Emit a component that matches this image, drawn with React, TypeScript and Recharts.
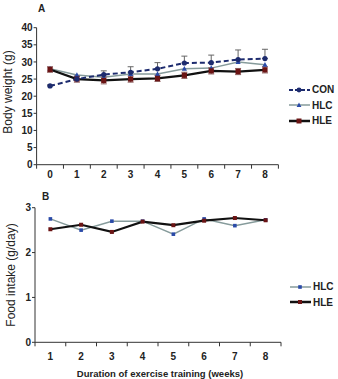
import React from "react";
import { LineChart, Line, XAxis, YAxis, ErrorBar } from "recharts";

// Panel A: body weight (g)
const weeksA = ["0", "1", "2", "3", "4", "5", "6", "7", "8"];
const conWeight = [23, 25, 26.3, 27, 28, 29.7, 29.8, 30.7, 31];
const conWeightErr = [0.3, 0.8, 1.1, 1.6, 1.8, 2.0, 2.2, 2.8, 2.7];
const hlcWeight = [28, 26.2, 25.5, 26.5, 26.5, 28, 28.2, 30, 29.2];
const hleWeight = [27.8, 25, 24.6, 25, 25.2, 26.1, 27.4, 27.2, 27.7];
const hleWeightErr = [0.8, 0.9, 1.0, 0.9, 0.9, 0.9, 0.9, 0.9, 0.9];
const weightTicks = [0, 5, 10, 15, 20, 25, 30, 35, 40];

// Panel B: food intake (g/day)
const weeksB = ["1", "2", "3", "4", "5", "6", "7", "8"];
const hlcFood = [2.75, 2.5, 2.7, 2.7, 2.41, 2.75, 2.6, 2.73];
const hleFood = [2.52, 2.62, 2.46, 2.69, 2.61, 2.71, 2.77, 2.72];
const foodTicks = [0, 1, 2, 3];

const weightData = weeksA.map((w, i) => ({
  week: w,
  con: conWeight[i],
  conErr: [0, conWeightErr[i]],
  hlc: hlcWeight[i],
  hle: hleWeight[i],
  hleErr: hleWeightErr[i],
}));

const foodData = weeksB.map((w, i) => ({
  week: w,
  hlc: hlcFood[i],
  hle: hleFood[i],
}));

const FONT = "'Liberation Sans', Arial, sans-serif";
const NAVY = "#1d2b6e";
const HLC_LINE = "#869b9b";
const HLC_DOT = "#2a4aa8";
const HLE_DOT = "#6b1414";

const tickStyle = { fontSize: 10, fontWeight: 700, fill: "#222", fontFamily: FONT };

function BandTick(props: any) {
  const { x, y, payload, index, band, count, labelDy } = props;
  const lineTop = y - 6;
  return (
    <g>
      <line x1={x - band / 2} x2={x - band / 2} y1={lineTop} y2={lineTop + 4} stroke="#333" />
      {index === count - 1 && (
        <line x1={x + band / 2} x2={x + band / 2} y1={lineTop} y2={lineTop + 4} stroke="#333" />
      )}
      <text x={x} y={y} dy={labelDy} textAnchor="middle" style={tickStyle}>
        {payload.value}
      </text>
    </g>
  );
}

const Circle = (p: any) => <circle cx={p.cx} cy={p.cy} r={2.6} fill={NAVY} />;
const Tri = (p: any) => (
  <path d={`M${p.cx},${p.cy - 2.8} L${p.cx + 2.6},${p.cy + 2} L${p.cx - 2.6},${p.cy + 2} Z`} fill={HLC_DOT} />
);
const Sq = (p: any) => <rect x={p.cx - 2.6} y={p.cy - 2.6} width={5.2} height={5.2} fill={HLE_DOT} />;
const SmallSqBlue = (p: any) => <rect x={p.cx - 1.8} y={p.cy - 1.8} width={3.6} height={3.6} fill={HLC_DOT} />;
const SmallSqRed = (p: any) => <rect x={p.cx - 2} y={p.cy - 2} width={4} height={4} fill={HLE_DOT} />;

type Item = { label: string; color: string; width: number; dash?: string; marker: React.ReactNode };

function LegendBox({ items, left, top }: { items: Item[]; left: number; top: number }) {
  return (
    <div style={{ position: "absolute", left, top, fontFamily: FONT }}>
      {items.map((it) => (
        <div key={it.label} style={{ display: "flex", alignItems: "center", height: 15.5 }}>
          <svg width={24} height={10}>
            <line x1={2} x2={23} y1={5} y2={5} stroke={it.color} strokeWidth={it.width} strokeDasharray={it.dash} />
            <g transform="translate(12,5)">{it.marker}</g>
          </svg>
          <span style={{ fontSize: 10, fontWeight: 700, color: "#222", marginLeft: 1 }}>{it.label}</span>
        </div>
      ))}
    </div>
  );
}

const BAND_A = 241.8 / 9;
const BAND_B = 246 / 8;

export default function App() {
  return (
    <div style={{ position: "absolute", left: 0, top: 0, width: 338, height: 379, background: "#fff", fontFamily: FONT }}>
      <div style={{ position: "absolute", left: 38, top: 3, fontSize: 10, fontWeight: 700, color: "#222" }}>A</div>
      <div
        style={{
          position: "absolute",
          left: 8,
          top: 92,
          transform: "translate(-50%, -50%) rotate(-90deg)",
          whiteSpace: "nowrap",
          fontSize: 12,
          color: "#222",
        }}
      >
        Body weight (g)
      </div>
      <div style={{ position: "absolute", left: 0, top: 0 }}>
        <LineChart width={338} height={190} data={weightData} margin={{ top: 27.7, right: 59.6, left: 0.6, bottom: 0 }}>
          <XAxis
            dataKey="week"
            height={25.3}
            padding={{ left: BAND_A / 2, right: BAND_A / 2 }}
            tickLine={false}
            tickSize={4}
            tickMargin={2}
            axisLine={{ stroke: "#333" }}
            interval={0}
            tick={(p: any) => <BandTick {...p} band={BAND_A} count={weeksA.length} labelDy={7} />}
          />
          <YAxis
            width={36}
            domain={[0, 40]}
            ticks={weightTicks}
            interval={0}
            tickSize={3}
            tickMargin={1}
            tickLine={{ stroke: "#333" }}
            axisLine={{ stroke: "#333" }}
            tick={tickStyle}
          />
          <Line dataKey="hlc" stroke={HLC_LINE} strokeWidth={1.5} dot={<Tri />} isAnimationActive={false} />
          <Line dataKey="hle" stroke="#111" strokeWidth={2.2} dot={<Sq />} isAnimationActive={false}>
            <ErrorBar dataKey="hleErr" width={3} stroke="#8a5a5a" strokeWidth={1} />
          </Line>
          <Line
            dataKey="con"
            stroke={NAVY}
            strokeWidth={2}
            strokeDasharray="5 3"
            dot={<Circle />}
            isAnimationActive={false}
          >
            <ErrorBar dataKey="conErr" width={3} stroke="#666" strokeWidth={1} />
          </Line>
        </LineChart>
      </div>
      <LegendBox
        left={287}
        top={82}
        items={[
          { label: "CON", color: NAVY, width: 2, dash: "4 2", marker: <circle r={2.4} fill={NAVY} /> },
          { label: "HLC", color: HLC_LINE, width: 1.5, marker: <path d="M0,-2.6 L2.4,2 L-2.4,2 Z" fill={HLC_DOT} /> },
          { label: "HLE", color: "#111", width: 2.5, marker: <rect x={-2.5} y={-2.5} width={5} height={5} fill={HLE_DOT} /> },
        ]}
      />

      <div style={{ position: "absolute", left: 42, top: 191, fontSize: 10, fontWeight: 700, color: "#222" }}>B</div>
      <div
        style={{
          position: "absolute",
          left: 11,
          top: 275,
          transform: "translate(-50%, -50%) rotate(-90deg)",
          whiteSpace: "nowrap",
          fontSize: 12,
          color: "#222",
        }}
      >
        Food intake (g/day)
      </div>
      <div
        style={{
          position: "absolute",
          left: 160,
          top: 373,
          transform: "translate(-50%, -50%)",
          whiteSpace: "nowrap",
          fontSize: 9.5,
          fontWeight: 700,
          color: "#222",
        }}
      >
        Duration of exercise training (weeks)
      </div>
      <div style={{ position: "absolute", left: 0, top: 180 }}>
        <LineChart width={338} height={199} data={foodData} margin={{ top: 27.7, right: 57, left: 0, bottom: 0 }}>
          <XAxis
            dataKey="week"
            height={36.7}
            padding={{ left: BAND_B / 2, right: BAND_B / 2 }}
            tickLine={false}
            tickSize={4}
            tickMargin={2}
            axisLine={{ stroke: "#333" }}
            interval={0}
            tick={(p: any) => <BandTick {...p} band={BAND_B} count={weeksB.length} labelDy={12} />}
          />
          <YAxis
            width={35}
            domain={[0, 3]}
            ticks={foodTicks}
            interval={0}
            tickSize={3}
            tickMargin={1}
            tickLine={{ stroke: "#333" }}
            axisLine={{ stroke: "#333" }}
            tick={tickStyle}
          />
          <Line dataKey="hlc" stroke={HLC_LINE} strokeWidth={1.5} dot={<SmallSqBlue />} isAnimationActive={false} />
          <Line dataKey="hle" stroke="#111" strokeWidth={2.2} dot={<SmallSqRed />} isAnimationActive={false} />
        </LineChart>
      </div>
      <LegendBox
        left={288}
        top={279}
        items={[
          { label: "HLC", color: HLC_LINE, width: 1.5, marker: <rect x={-1.8} y={-1.8} width={3.6} height={3.6} fill={HLC_DOT} /> },
          { label: "HLE", color: "#111", width: 2.5, marker: <rect x={-2} y={-2} width={4} height={4} fill={HLE_DOT} /> },
        ]}
      />
    </div>
  );
}
